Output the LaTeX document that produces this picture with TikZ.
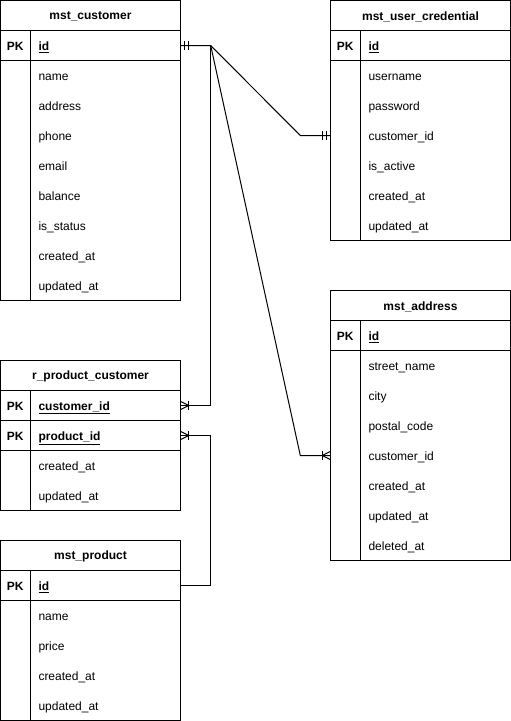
\documentclass[tikz,border=0pt]{standalone}
\usepackage{fontspec}
\setmainfont{Liberation Sans}
\tikzset{
 tbl/.style={draw, line width=1pt},
 hdr/.style={font=\fontsize{12}{14}\selectfont\bfseries, inner sep=0, yshift=-1pt},
 fld/.style={font=\fontsize{12}{14}\selectfont, anchor=west, inner sep=0, text height=9pt, text depth=2.5pt, yshift=-1.5pt},
 pkf/.style={fld, font=\fontsize{12}{14}\selectfont\bfseries},
 rowbox/.style={minimum width=180pt, minimum height=30pt, inner sep=0, draw=none},
 conn/.style={line width=1pt},
}
\newcommand\ertable[6]{%
 \node[rowbox] (#1) at (#2+90,#3+15) {};
 \node[hdr] (#1-title) at (#1.center) {#4};
 \foreach \fname [count=\i] in {#5} {
   \node[rowbox] (#1-k\i) at (#2+90,#3+15+30*\i) {};
   \node[pkf, anchor=center] (#1-pk\i) at ([xshift=15pt]#1-k\i.west) {PK};
   \node[pkf] (#1-kt\i) at ([xshift=38pt]#1-k\i.west) {\underline{\fname}};
   \draw[tbl] (#1-k\i.south west) -- (#1-k\i.south east);
   \xdef\nk{\i}
 }
 \foreach \fname [count=\j] in {#6} {
   \pgfmathtruncatemacro\r{\j+\nk}
   \node[rowbox] (#1-f\j) at (#2+90,#3+15+30*\r) {};
   \node[fld] (#1-ft\j) at ([xshift=38pt]#1-f\j.west) {\fname};
   \xdef\nf{\r}
 }
 \pgfmathsetmacro\bot{#3+30+30*\nf}
 \draw[tbl] (#1.south west) -- (#1.south east);
 \draw[tbl] (#2+30,#3+30) -- (#2+30,\bot);
 \draw[tbl] (#2,#3) rectangle (#2+180,\bot);
}
\newcommand\crow[2]{\draw[conn] ([yshift=4pt]#1) -- ([xshift=#2]#1) -- ([yshift=-4pt]#1);
 \draw[conn] ([xshift=#2,yshift=4.5pt]#1) -- ([xshift=#2,yshift=-4.5pt]#1);}
\newcommand\vbar[2]{\draw[conn] ([xshift=#2,yshift=4.5pt]#1) -- ([xshift=#2,yshift=-4.5pt]#1);}
\begin{document}
\begin{tikzpicture}[x=1pt,y=-1pt]
\useasboundingbox (0,0) rectangle (511,721);
\begin{scope}[shift={(0.5,0.5)}]
\ertable{cust}{0}{0}{mst\_customer}{id}{name,address,phone,email,balance,is\_status,created\_at,updated\_at}
\ertable{cred}{330}{0}{mst\_user\_credential}{id}{username,password,customer\_id,is\_active,created\_at,updated\_at}
\ertable{addr}{330}{290}{mst\_address}{id}{street\_name,city,postal\_code,customer\_id,created\_at,updated\_at,deleted\_at}
\ertable{rpc}{0}{360}{r\_product\_customer}{customer\_id,product\_id}{created\_at,updated\_at}
\ertable{prod}{0}{540}{mst\_product}{id}{name,price,created\_at,updated\_at}
% connectors
\draw[conn] (cust-k1.east) -- ++(30,0) -- ([xshift=-30pt]cred-f3.west) -- (cred-f3.west);
\draw[conn] (cust-k1.east) ++(30,0) |- (rpc-k1.east);
\draw[conn] (cust-k1.east) ++(30,0) -- ([xshift=-30pt]addr-f4.west) -- (addr-f4.west);
\draw[conn] (prod-k1.east) -- ++(30,0) |- (rpc-k2.east);
% markers
\vbar{cust-k1.east}{4pt}
\vbar{cust-k1.east}{8pt}
\vbar{cred-f3.west}{-4pt}
\vbar{cred-f3.west}{-8pt}
\crow{rpc-k1.east}{8pt}
\crow{rpc-k2.east}{8pt}
\crow{addr-f4.west}{-8pt}
\end{scope}
\end{tikzpicture}
\end{document}
